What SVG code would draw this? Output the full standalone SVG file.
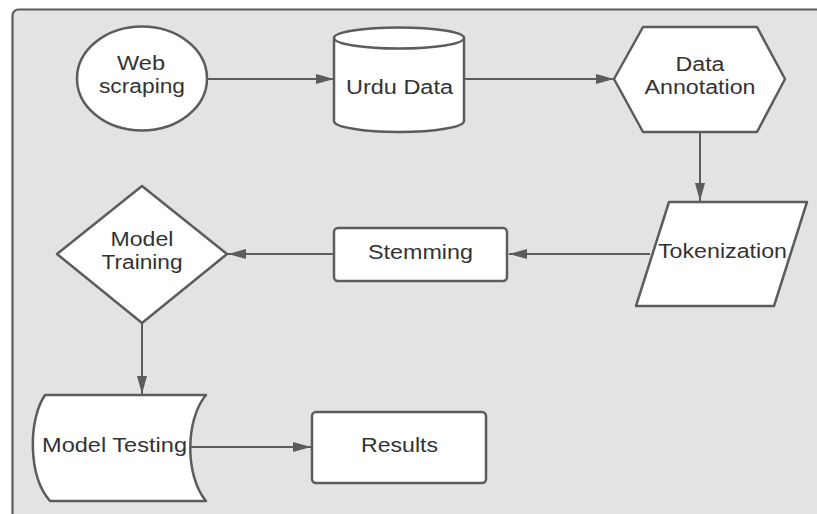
<svg xmlns="http://www.w3.org/2000/svg" width="817" height="514" viewBox="0 0 817 514">
<style>
.shape{fill:#fff;stroke:#5c5c5c;stroke-width:2.5;stroke-linejoin:round}
.conn{fill:none;stroke:#5c5c5c;stroke-width:2}
.lbl{font-family:"Liberation Sans",Arial,sans-serif;font-size:19.5px;fill:#333;text-anchor:middle}
</style>
<defs>
<marker id="arr" viewBox="0 0 18 10" refX="18" refY="5" markerWidth="18" markerHeight="10" markerUnits="userSpaceOnUse" orient="auto">
<path d="M0,0 L18,5 L0,10 Z" fill="#5c5c5c"/>
</marker>
</defs>
<rect width="817" height="514" fill="#fff"/>
<rect x="12.5" y="9.5" width="830" height="530" rx="6" fill="#e3e3e3" stroke="#5c5c5c" stroke-width="2.2"/>
<g id="connectors">
<line class="conn" x1="207" y1="79" x2="334" y2="79" marker-end="url(#arr)"/>
<line class="conn" x1="464" y1="79" x2="614" y2="79" marker-end="url(#arr)"/>
<line class="conn" x1="700" y1="132" x2="700" y2="201" marker-end="url(#arr)"/>
<line class="conn" x1="650" y1="254" x2="509" y2="254" marker-end="url(#arr)"/>
<line class="conn" x1="334" y1="254" x2="228" y2="254" marker-end="url(#arr)"/>
<line class="conn" x1="142" y1="323" x2="142" y2="394" marker-end="url(#arr)"/>
<line class="conn" x1="189" y1="447" x2="311" y2="447" marker-end="url(#arr)"/>
</g>
<g id="web-scraping">
<ellipse class="shape" cx="142" cy="78.5" rx="65" ry="52"/>
<text class="lbl" x="141" y="70" textLength="48" lengthAdjust="spacingAndGlyphs">Web</text>
<text class="lbl" x="142" y="93" textLength="86" lengthAdjust="spacingAndGlyphs">scraping</text>
</g>
<g id="urdu-data">
<path class="shape" d="M334,38 A65,10.5 0 0 1 464,38 L464,121 A65,11 0 0 1 334,121 Z"/>
<path class="shape" d="M334,38 A65,10.5 0 0 0 464,38" fill="none"/>
<text class="lbl" x="399.5" y="94" textLength="107" lengthAdjust="spacingAndGlyphs">Urdu Data</text>
</g>
<g id="data-annotation">
<path class="shape" d="M614,79 L643,27 L757,27 L785,79 L757,132 L643,132 Z"/>
<text class="lbl" x="700" y="71" textLength="49" lengthAdjust="spacingAndGlyphs">Data</text>
<text class="lbl" x="700" y="94" textLength="111" lengthAdjust="spacingAndGlyphs">Annotation</text>
</g>
<g id="tokenization">
<path class="shape" d="M669,202 L807,202 L774,306 L636,306 Z"/>
<text class="lbl" x="722.5" y="258" textLength="129" lengthAdjust="spacingAndGlyphs">Tokenization</text>
</g>
<g id="stemming">
<rect class="shape" x="334" y="228" width="173" height="53" rx="4"/>
<text class="lbl" x="420.5" y="259" textLength="105" lengthAdjust="spacingAndGlyphs">Stemming</text>
</g>
<g id="model-training">
<path class="shape" d="M142,186 L227,254 L142,323 L57,254 Z"/>
<text class="lbl" x="142" y="246" textLength="63" lengthAdjust="spacingAndGlyphs">Model</text>
<text class="lbl" x="142" y="269" textLength="81" lengthAdjust="spacingAndGlyphs">Training</text>
</g>
<g id="model-testing">
<path class="shape" d="M45,395 L206,395 C185,420 185,476 206,501 L50,501 C28,476 28,420 45,395 Z"/>
<text class="lbl" x="114.5" y="452" textLength="145" lengthAdjust="spacingAndGlyphs">Model Testing</text>
</g>
<g id="results">
<rect class="shape" x="312" y="412" width="174" height="71" rx="4"/>
<text class="lbl" x="399.5" y="452" textLength="77" lengthAdjust="spacingAndGlyphs">Results</text>
</g>
</svg>
